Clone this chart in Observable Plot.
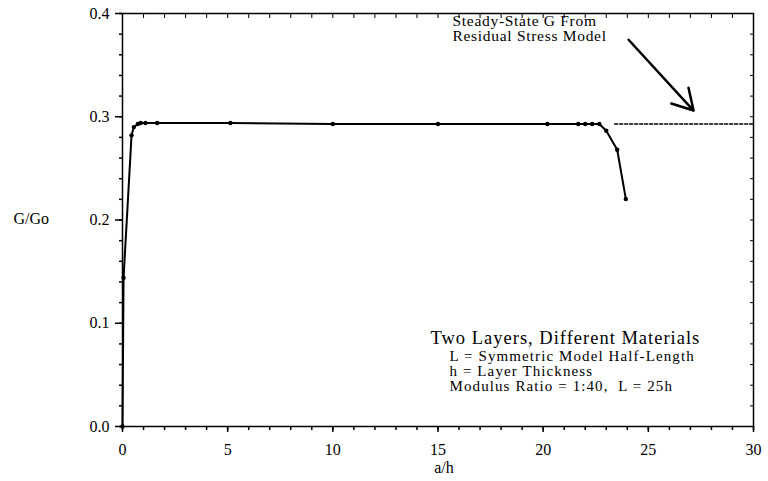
<!DOCTYPE html>
<html><head><meta charset="utf-8">
<script src="https://cdn.jsdelivr.net/npm/d3@7"></script>
<script src="https://cdn.jsdelivr.net/npm/@observablehq/plot@0.6"></script>
<style>
body{margin:0;background:#fff;}
svg{font-family:"Liberation Serif","Times New Roman",serif;}
</style></head><body>
<div id="chart"></div>
<script>
const aH = [0, 0.05, 0.43, 0.54, 0.73, 0.86, 1.09, 1.65, 5.13, 10.0, 15.0, 20.2, 21.67, 22.0, 22.33, 22.67, 23.0, 23.52, 23.93];
const gRatio = [0, 0.144, 0.282, 0.290, 0.293, 0.294, 0.294, 0.294, 0.294, 0.293, 0.293, 0.293, 0.293, 0.293, 0.293, 0.293, 0.2865, 0.268, 0.2204];
const steadyX = [23.4, 30];
const steadyG = [0.293, 0.293];
const xTicks = [0, 5, 10, 15, 20, 25, 30];
const yTicks = [0.0, 0.1, 0.2, 0.3, 0.4];
const annot1 = ["Steady-State G From", "Residual Stress Model"];
const arrowFrom = [24.06, 0.3746];
const arrowTo = [27.15, 0.306];
const boxTitle = "Two Layers, Different Materials";
const boxLines = ["L = Symmetric Model Half-Length", "h = Layer Thickness", "Modulus Ratio = 1:40,  L = 25h"];

const data = aH.map((x, i) => ({x, y: gRatio[i]}));
const steady = steadyX.map((x, i) => ({x, y: steadyG[i]}));

const chart = Plot.plot({
  width: 768, height: 481,
  marginLeft: 122, marginRight: 15, marginTop: 13, marginBottom: 55,
  style: {fontFamily: "Liberation Serif, Times New Roman, serif", fontSize: "16px", color: "#000", background: "#fff"},
  x: {domain: [0, 30]},
  y: {domain: [0, 0.4]},
  marks: [
    Plot.frame({stroke: "#000", strokeWidth: 1.5}),
    Plot.axisX({ticks: d3.range(0, 31, 1), tickSize: 4, tickFormat: () => "", label: null, strokeWidth: 1.5}),
    Plot.axisX({ticks: xTicks, tickSize: 6, tickPadding: 11, tickFormat: d => String(d), label: null, fontSize: 16, strokeWidth: 1.5}),
    Plot.axisX({ticks: d3.range(0, 31, 1), tickSize: -4, anchor: "top", tickFormat: () => "", label: null}),
    Plot.axisY({ticks: d3.range(0, 0.401, 0.02), tickSize: 3, tickFormat: () => "", label: null, strokeWidth: 1.5}),
    Plot.axisY({ticks: yTicks, tickSize: 7, tickPadding: 6, tickFormat: d3.format(".1f"), label: null, fontSize: 16, strokeWidth: 1.5}),
    Plot.axisY({ticks: d3.range(0, 0.401, 0.02), tickSize: -4, anchor: "right", tickFormat: () => "", label: null}),
    Plot.line(data, {x: "x", y: "y", stroke: "#000", strokeWidth: 2}),
    Plot.dot(data, {x: "x", y: "y", r: 2.2, fill: "#000"}),
    Plot.line(steady, {x: "x", y: "y", stroke: "#000", strokeWidth: 1.6, strokeDasharray: "3,2"}),
    Plot.arrow([{x1: arrowFrom[0], y1: arrowFrom[1], x2: arrowTo[0], y2: arrowTo[1]}], {x1: "x1", y1: "y1", x2: "x2", y2: "y2", stroke: "#000", strokeWidth: 2.5, headLength: 14, bend: 0}),
    Plot.text([annot1.join("\n")], {frameAnchor: "top-left", dx: 452 - 122, dy: 1, textAnchor: "start", lineAnchor: "top", fontSize: 15.5, lineHeight: 1.0, fill: "#000"}),
    Plot.text([boxTitle], {frameAnchor: "top-left", dx: 430 - 122, dy: 330 - 13, textAnchor: "start", lineAnchor: "top", fontSize: 18.5, fill: "#000"}),
    Plot.text([boxLines.join("\n")], {frameAnchor: "top-left", dx: 449 - 122, dy: 350 - 13, textAnchor: "start", lineAnchor: "top", fontSize: 15, lineHeight: 1.0, fill: "#000"}),
    Plot.text(["G/Go"], {frameAnchor: "top-left", dx: 13 - 122, dy: 212 - 13, textAnchor: "start", fontSize: 16, fill: "#000"}),
    Plot.text(["a/h"], {frameAnchor: "bottom", dx: 6, dy: 46, fontSize: 16, fill: "#000"})
  ]
});
const spacing = new Map([
  [annot1[0], "0.7px"],
  [boxTitle, "1px"],
  [boxLines[0], "1.1px"]
]);
chart.querySelectorAll("text").forEach(t => {
  const first = t.querySelector("tspan") ? t.querySelector("tspan").textContent : t.textContent;
  if (spacing.has(first)) t.setAttribute("letter-spacing", spacing.get(first));
});
document.getElementById("chart").appendChild(chart);
</script>
</body></html>
